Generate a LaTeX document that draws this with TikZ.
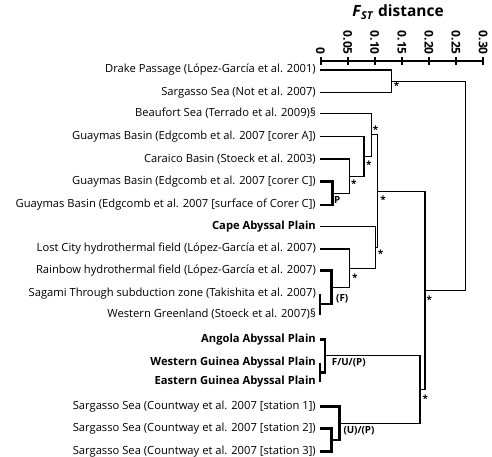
\documentclass[tikz,border=0pt]{standalone}
\usepackage{fontspec}
\setmainfont{Open Sans}

\begin{document}
\begin{tikzpicture}[
  x=1pt, y=-1pt,
  leaf/.style    = {anchor=east, inner xsep=4pt, inner ysep=0pt,
                    font=\fontsize{11.2}{12}\selectfont},
  site/.style    = {leaf, font=\fontsize{11.2}{12}\selectfont\bfseries},
  tree/.style    = {line width=1.1pt},
  zero/.style    = {line width=2.6pt},   % zero-distance groups: heavy bars
  sig/.style     = {anchor=north west, inner sep=1pt,
                    font=\fontsize{10}{10}\selectfont\bfseries},
  grp/.style     = {anchor=north west, inner sep=1pt,
                    font=\fontsize{9.8}{10}\selectfont\bfseries},
  axis/.style    = {line width=2pt},
  ticklbl/.style = {rotate=-90, anchor=east, inner sep=1pt,
                    font=\fontsize{12}{12}\selectfont\bfseries},
  title/.style   = {font=\fontsize{15.5}{16}\selectfont\bfseries},
]
  \useasboundingbox (0,0) rectangle (492,456);

  % distance scale
  \node[title] (ttl) at (398,12) {\textit{F}\textsubscript{\textit{ST}} distance};
  \draw[axis] (320.5,61) -- (483.1,61);
  \foreach \t [count=\i from 0] in {0,0.05,0.10,0.15,0.20,0.25,0.30} {
    \draw[axis] (320.5+27.1*\i,57) -- (320.5+27.1*\i,65);
    \node[ticklbl] (t\i) at (320.5+27.1*\i,56) {\t};
  }

  % samples
  \node[leaf] (drake)    at (320,70)    {Drake Passage (López-García et al. 2001)};
  \node[leaf] (sargNot)  at (320,92.3)  {Sargasso Sea (Not et al. 2007)};
  \node[leaf] (beaufort) at (320,113.3) {Beaufort Sea (Terrado et al. 2009)§};
  \node[leaf] (guayA)    at (320,136.7) {Guaymas Basin (Edgcomb et al. 2007 [corer A])};
  \node[leaf] (caraico)  at (320,159)   {Caraico Basin (Stoeck et al. 2003)};
  \node[leaf] (guayC)    at (320,181.7) {Guaymas Basin (Edgcomb et al. 2007 [corer C])};
  \node[leaf] (guayS)    at (320,205)   {Guaymas Basin (Edgcomb et al. 2007 [surface of Corer C])};
  \node[site] (cape)     at (320,226.7) {Cape Abyssal Plain};
  \node[leaf] (lost)     at (320,249)   {Lost City hydrothermal field (López-García et al. 2007)};
  \node[leaf] (rainbow)  at (320,270.7) {Rainbow hydrothermal field (López-García et al. 2007)};
  \node[leaf] (sagami)   at (320,293.5) {Sagami Through subduction zone (Takishita et al. 2007)};
  \node[leaf] (wgreen)   at (320,314.5) {Western Greenland (Stoeck et al. 2007)§};
  \node[site] (angola)   at (320,339.3) {Angola Abyssal Plain};
  \node[site] (wguinea)  at (320,363)   {Western Guinea Abyssal Plain};
  \node[site] (eguinea)  at (320,381.7) {Eastern Guinea Abyssal Plain};
  \node[leaf] (sar1)     at (320,406.7) {Sargasso Sea (Countway et al. 2007 [station 1])};
  \node[leaf] (sar2)     at (320,428.3) {Sargasso Sea (Countway et al. 2007 [station 2])};
  \node[leaf] (sar3)     at (320,451.7) {Sargasso Sea (Countway et al. 2007 [station 3])};

  % joins
  \coordinate (nTop)  at (391.7,81.15);
  \coordinate (pP)    at (332.7,193.35);
  \coordinate (nCar)  at (349.3,176.2);
  \coordinate (nGA)   at (364,156.45);
  \coordinate (nBeau) at (371.7,134.9);
  \coordinate (sw)    at (320,304);
  \coordinate (pF)    at (331.7,287.35);
  \coordinate (nLost) at (349.3,268.2);
  \coordinate (nCape) at (375.7,247.45);
  \coordinate (nUp)   at (377.7,191.2);
  \coordinate (we)    at (320,372.35);
  \coordinate (pFUP)  at (325,355.8);
  \coordinate (s23)   at (331.7,440);
  \coordinate (pUP)   at (339.3,423.35);
  \coordinate (nLow)  at (420,389.6);
  \coordinate (nMid)  at (425,290.4);
  \coordinate (root)  at (465.7,185.8);

  \draw[tree] (drake.east)    -| (nTop)  |- (sargNot.east);
  \draw[zero] (guayC.east)    -| (pP)    |- (guayS.east);
  \draw[tree] (caraico.east)  -| (nCar)  |- (pP);
  \draw[tree] (guayA.east)    -| (nGA)   |- (nCar);
  \draw[tree] (beaufort.east) -| (nBeau) |- (nGA);
  \draw[zero] (sagami.east)   -- (wgreen.east);
  \draw[zero] (rainbow.east)  -| (pF)    |- (sw);
  \draw[tree] (lost.east)     -| (nLost) |- (pF);
  \draw[tree] (cape.east)     -| (nCape) |- (nLost);
  \draw[tree] (nBeau)         -| (nUp)   |- (nCape);
  \draw[zero] (wguinea.east)  -- (eguinea.east);
  \draw[zero] (angola.east)   -| (pFUP)  |- (we);
  \draw[zero] (sar2.east)     -| (s23)   |- (sar3.east);
  \draw[zero] (sar1.east)     -| (pUP)   |- (s23);
  \draw[tree] (pFUP)          -| (nLow)  |- (pUP);
  \draw[tree] (nUp)           -| (nMid)  |- (nLow);
  \draw[tree] (nTop)          -| (root)  |- (nMid);

  % bootstrap marks
  \node[sig] (stTop)  at ([shift={(1,0)}]nTop)    {*};
  \node[sig, anchor=south west] (stBeau) at (nBeau) {*};
  \node[sig] (stGA)   at ([shift={(1,3.3)}]nGA)   {*};
  \node[sig] (stCar)  at ([shift={(0.5,2)}]nCar)  {*};
  \node[sig] (stUp)   at ([shift={(1.5,3.6)}]nUp) {*};
  \node[sig] (stCape) at ([shift={(1,0.8)}]nCape) {*};
  \node[sig] (stLost) at ([shift={(1.5,4.3)}]nLost) {*};
  \node[sig] (stMid)  at ([shift={(0.5,4.4)}]nMid)  {*};
  \node[sig] (stLow)  at ([shift={(1.5,4.2)}]nLow)  {*};

  % non-significant groupings
  \node[grp] (gP)   at ([shift={(0.3,2.3)}]pP)   {P};
  \node[grp] (gF)   at ([shift={(3.3,5.6)}]pF)   {(F)};
  \node[grp] (gFUP) at ([shift={(5.7,1.5)}]pFUP) {F/U/(P)};
  \node[grp] (gUP)  at ([shift={(3,2.3)}]pUP)    {(U)/(P)};
\end{tikzpicture}
\end{document}
